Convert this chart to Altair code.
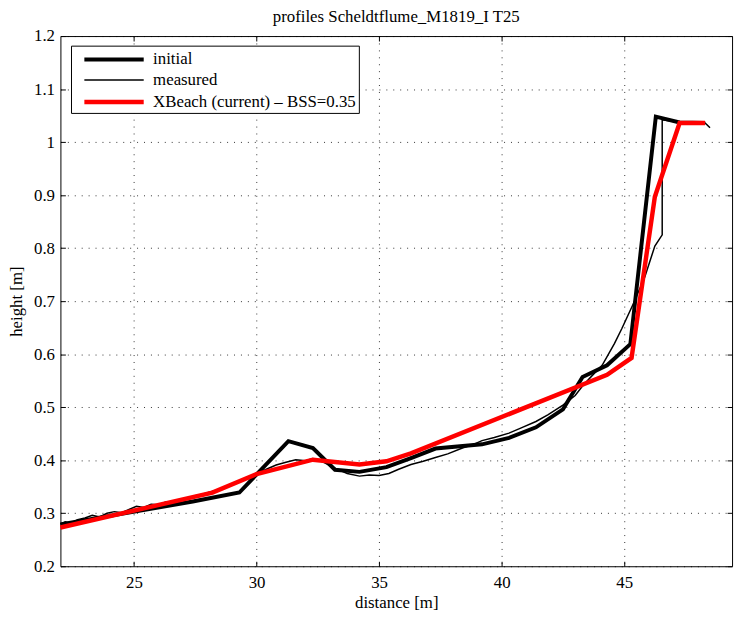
import altair as alt
import pandas as pd

# ---- data ----
series_names = ["initial", "measured", "XBeach (current) \u2013 BSS=0.35"]
series_colors = ["#000000", "#000000", "#ff0000"]
series_widths = [4, 1.5, 4.5]

initial_x = [22.0, 27.4, 29.3, 31.3, 32.3, 33.2, 34.2, 35.3, 36.3, 37.3, 39.2,
             40.3, 41.4, 42.5, 43.3, 44.3, 45.25, 46.29, 47.26, 48.3]
initial_y = [0.279, 0.322, 0.339, 0.436, 0.423, 0.382, 0.378, 0.387, 0.404, 0.422, 0.430,
             0.442, 0.462, 0.496, 0.557, 0.579, 0.619, 1.048, 1.037, 1.036]

measured_x = [22.0, 22.2, 22.4, 22.7, 23.0, 23.3, 23.6, 23.9, 24.2, 24.5, 24.8,
              25.1, 25.4, 25.7, 26.0, 26.3, 26.6, 26.9, 27.2, 27.5, 27.8,
              28.1, 28.4, 28.7, 29.0, 29.3, 29.7, 30.0, 30.4, 30.8, 31.2,
              31.6, 32.0, 32.3, 32.7, 33.2, 33.7, 34.2, 34.6, 35.0, 35.4,
              35.8, 36.3, 36.8, 37.3, 37.8, 38.4, 38.8, 39.2, 39.7, 40.3,
              40.8, 41.4, 41.9, 42.5, 43.0, 43.3, 43.7, 44.1, 44.6, 44.9,
              45.4, 45.85, 46.25, 46.55, 46.55, 47.3, 48.3, 48.5]
measured_y = [0.280, 0.284, 0.281, 0.288, 0.291, 0.296, 0.293, 0.300, 0.303, 0.301, 0.307,
              0.313, 0.311, 0.317, 0.316, 0.321, 0.320, 0.326, 0.329, 0.333, 0.336,
              0.340, 0.344, 0.348, 0.353, 0.360, 0.366, 0.374, 0.383, 0.391, 0.396,
              0.401, 0.399, 0.403, 0.397, 0.385, 0.375, 0.370, 0.372, 0.371, 0.375,
              0.383, 0.392, 0.398, 0.405, 0.412, 0.423, 0.429, 0.437, 0.443, 0.451,
              0.461, 0.473, 0.486, 0.504, 0.522, 0.540, 0.560, 0.579, 0.620, 0.648,
              0.698, 0.747, 0.804, 0.825, 1.042, 1.037, 1.036, 1.027]

xbeach_x = [22.0, 28.2, 30.0, 32.3, 34.2, 35.3, 36.3, 44.3, 45.3, 46.25, 47.26, 48.3]
xbeach_y = [0.273, 0.339, 0.374, 0.401, 0.392, 0.398, 0.413, 0.561, 0.593, 0.897, 1.036, 1.036]

x_ticks = [25, 30, 35, 40, 45]
y_ticks = [0.2, 0.3, 0.4, 0.5, 0.6, 0.7, 0.8, 0.9, 1.0, 1.1, 1.2]

rows = []
for name, xs, ys in zip(series_names, [initial_x, measured_x, xbeach_x],
                        [initial_y, measured_y, xbeach_y]):
    for i, (xv, yv) in enumerate(zip(xs, ys)):
        rows.append({"series": name, "distance": xv, "height": yv, "i": i})
df = pd.DataFrame(rows)

FONT = "Liberation Serif"
FS = 17
xscale = alt.Scale(domain=[22, 49.4], nice=False, zero=False)
yscale = alt.Scale(domain=[0.2, 1.2], nice=False, zero=False)

legend_props = dict(
    title=None, orient="none", legendX=10.7, legendY=9.7,
    symbolType="M-3,0H3", symbolSize=400, symbolOffset=29,
    labelOffset=27, labelFont=FONT, labelFontSize=FS, labelColor="black",
    labelLimit=500, strokeColor="black", fillColor="white", padding=2,
    rowPadding=1.7, symbolFillColor="transparent",
)

axis_text = dict(labelFont=FONT, labelFontSize=FS, labelColor="black",
                 titleFont=FONT, titleFontSize=FS, titleFontWeight="normal",
                 titleColor="black", tickColor="black", tickWidth=1)

lines = alt.Chart(df).mark_line(strokeJoin="miter", strokeCap="butt").encode(
    x=alt.X("distance:Q", scale=xscale,
            axis=alt.Axis(values=x_ticks, title="distance [m]", orient="bottom",
                          offset=-5, tickSize=5, labelPadding=8, domain=False,
                          grid=True, gridDash=[1, 6], gridColor="black",
                          gridOpacity=0.8, titlePadding=5, **axis_text)),
    y=alt.Y("height:Q", scale=yscale,
            axis=alt.Axis(values=y_ticks, title="height [m]", orient="left",
                          format=".1~f", offset=-5, tickSize=5, labelPadding=6,
                          domain=False, grid=True, gridDash=[1, 6],
                          gridColor="black", gridOpacity=0.8, titlePadding=8,
                          **axis_text)),
    color=alt.Color("series:N",
                    scale=alt.Scale(domain=series_names, range=series_colors),
                    legend=alt.Legend(**legend_props)),
    strokeWidth=alt.StrokeWidth("series:N",
                                scale=alt.Scale(type="ordinal", domain=series_names,
                                                range=series_widths),
                                legend=alt.Legend(**legend_props)),
    order="i:Q",
    detail="series:N",
)

frame_axes = alt.Chart(df).mark_line(strokeOpacity=0).encode(
    x=alt.X("distance:Q", scale=xscale,
            axis=alt.Axis(values=x_ticks, title=None, orient="top", labels=False,
                          offset=-5, tickSize=5, domain=False, grid=False,
                          minExtent=0, maxExtent=0, tickColor="black")),
    y=alt.Y("height:Q", scale=yscale,
            axis=alt.Axis(values=y_ticks, title=None, orient="right", labels=False,
                          offset=-5, tickSize=5, domain=False, grid=False,
                          minExtent=0, maxExtent=0, tickColor="black")),
    detail="series:N",
    order="i:Q",
)

chart = alt.layer(lines, frame_axes).resolve_axis(
    x="independent", y="independent"
).properties(
    width=679,
    height=536,
    background="white",
    title=alt.Title("profiles Scheldtflume_M1819_I T25", font=FONT, fontSize=FS,
                    fontWeight="normal", color="black", anchor="middle",
                    frame="group", baseline="alphabetic", offset=4, dy=16),
    autosize=alt.AutoSizeParams(type="none"),
    padding={"left": 53, "top": 25, "right": 6, "bottom": 53},
).configure_view(
    stroke="black", strokeWidth=1
)

chart.save("out.html", embed_options={"renderer": "svg", "actions": False})
